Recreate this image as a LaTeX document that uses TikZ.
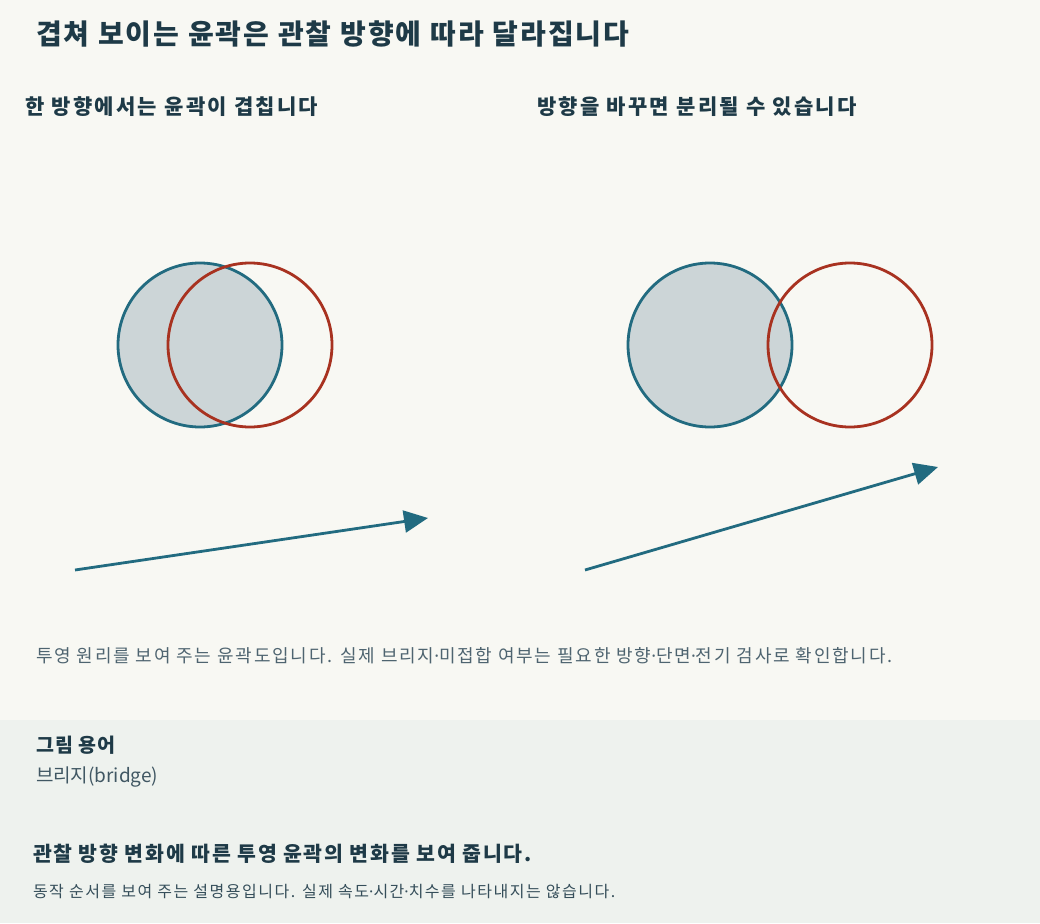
\documentclass[tikz,border=0pt]{standalone}
\usepackage{fontspec}
\setmainfont{Noto Sans CJK KR}
\newfontfamily\latinfont{Noto Sans}
\usetikzlibrary{arrows.meta,positioning}

\definecolor{bgpage}{HTML}{F8F8F3}
\definecolor{bgnote}{HTML}{EEF2EE}
\definecolor{inkdark}{HTML}{1E3A47}
\definecolor{inkgray}{HTML}{4E6470}
\definecolor{viewblue}{HTML}{226B80}
\definecolor{viewred}{HTML}{A83220}
\definecolor{shadeblue}{HTML}{CCD5D7}

\newcommand{\dotsep}{{\latinfont ·}}
\newcommand{\spaced}[2]{\fontsize{#1}{#1}\selectfont\addfontfeatures{LetterSpace=#2}}

\begin{document}
\begin{tikzpicture}[x=1pt,y=-1pt,>={Triangle[length=24pt,width=22pt]}]
\tikzset{every node/.append style={inner sep=0pt,outer sep=0pt}}
\tikzset{label text/.style={anchor=base west,text=inkdark}}
\tikzset{front ring/.style={circle,draw=viewblue,line width=2.8pt,fill=shadeblue,minimum size=164pt}}
\tikzset{back ring/.style={circle,draw=viewred,line width=2.8pt,minimum size=164pt}}
\tikzset{view arrow/.style={->,draw=viewblue,line width=2.8pt}}

\useasboundingbox (0,0) rectangle (1040,923);
\fill[bgpage] (0,0) rectangle (1040,720);
\fill[bgnote] (0,720) rectangle (1040,923);

\node[label text,font=\bfseries\spaced{28}{7.5}] (title) at (36,45) {겹쳐 보이는 윤곽은 관찰 방향에 따라 달라집니다};
\node[label text,font=\bfseries\spaced{21}{11}] (head1) at (25,114) {한 방향에서는 윤곽이 겹칩니다};
\node[label text,font=\bfseries\spaced{21}{11}] (head2) at (537,114) {방향을 바꾸면 분리될 수 있습니다};

% overlapping view
\node[front ring] (blue1) at (200,345) {};
\node[back ring]  (red1)  at (250,345) {};
% separated view
\node[front ring] (blue2) at (710,345) {};
\node[back ring]  (red2)  at (850,345) {};

\coordinate (from1) at (75,570);
\coordinate (to1)   at (428,518);
\coordinate (from2) at (585,570);
\coordinate (to2)   at (938,467);
\draw[view arrow] (from1) -- (to1);
\draw[view arrow] (from2) -- (to2);

\node[label text,text=inkgray,font=\spaced{18}{10}] (caption) at (36,662) {투영 원리를 보여 주는 윤곽도입니다. 실제 브리지\dotsep 미접합 여부는 필요한 방향\dotsep 단면\dotsep 전기 검사로 확인합니다.};

\node[label text,font=\bfseries\spaced{19.5}{6}] (termhead) at (36,752) {그림 용어};
\node[label text,text=inkdark!85,font=\fontsize{19}{23}\selectfont] (term) [below=30pt of termhead.base west,anchor=base west] {브리지(bridge)};
\node[label text,font=\bfseries\spaced{20.5}{8.6}] (summary) at (33,861) {관찰 방향 변화에 따른 투영 윤곽의 변화를 보여 줍니다.};
\node[label text,text=inkdark!90,font=\spaced{16}{9.5}] (note) at (33,897) {동작 순서를 보여 주는 설명용입니다. 실제 속도\dotsep 시간\dotsep 치수를 나타내지는 않습니다.};
\end{tikzpicture}
\end{document}
